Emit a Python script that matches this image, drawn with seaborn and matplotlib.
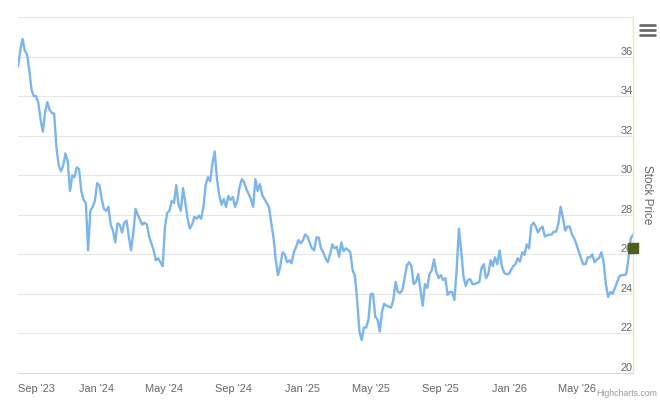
import numpy as np
import pandas as pd
import seaborn as sns
import matplotlib.pyplot as plt
import matplotlib.transforms as mtransforms
from matplotlib.lines import Line2D

# closing price, one reading every 4 days starting 2023-08-16
price = [
    35.5, 36.3, 36.9, 36.3, 36.1, 35.3, 34.3, 34.0, 34.0, 33.65,
    32.8, 32.2, 33.2, 33.7, 33.3, 33.15, 33.1, 31.4, 30.5, 30.2,
    30.5, 31.1, 30.7, 29.2, 30.0, 29.9, 30.4, 30.3, 29.2, 28.75,
    28.6, 26.2, 28.2, 28.4, 28.7, 29.6, 29.5, 28.8, 28.3, 28.2,
    28.4, 27.5, 27.2, 26.6, 27.56, 27.5, 27.1, 27.6, 27.7, 26.9,
    26.2, 27.1, 28.3, 28.0, 27.75, 27.5, 27.6, 27.5, 26.9, 26.55,
    26.2, 25.7, 25.8, 25.6, 25.4, 27.4, 28.1, 28.2, 28.7, 28.6,
    29.5, 28.5, 28.2, 29.35, 28.6, 27.8, 27.3, 27.5, 27.9, 27.8,
    27.95, 27.8, 28.4, 29.5, 29.9, 29.7, 30.6, 31.2, 29.8, 29.0,
    28.5, 28.8, 28.4, 28.95, 28.75, 28.9, 28.4, 28.7, 29.4, 29.8,
    29.65, 29.3, 29.05, 28.8, 28.4, 29.8, 29.2, 29.55, 29.0, 28.8,
    28.6, 28.4, 27.6, 26.85, 25.7, 24.95, 25.4, 26.1, 26.0, 25.6,
    25.7, 25.55, 26.1, 26.38, 26.72, 26.56, 26.7, 27.0, 26.9, 26.6,
    26.3, 26.2, 26.85, 26.85, 26.3, 26.1, 25.8, 25.6, 26.0, 26.5,
    26.3, 26.38, 25.88, 26.6, 26.15, 26.3, 26.22, 26.1, 25.2, 24.9,
    23.7, 22.1, 21.67, 22.3, 22.3, 22.7, 24.0, 24.0, 22.85, 22.7,
    22.1, 23.1, 23.5, 23.4, 23.35, 23.3, 23.7, 24.6, 24.1, 24.05,
    24.2, 24.8, 25.45, 25.6, 25.4, 24.5, 24.6, 25.0, 24.2, 23.4,
    24.5, 24.3, 25.0, 25.2, 25.75, 25.1, 24.8, 24.95, 24.7, 24.8,
    23.95, 24.1, 24.1, 23.7, 25.2, 27.3, 26.2, 24.9, 24.4, 24.7,
    24.75, 24.5, 24.5, 24.55, 24.6, 25.3, 25.5, 24.8, 25.0, 25.7,
    25.4, 25.85, 25.5, 26.2, 25.4, 25.07, 25.0, 25.0, 25.2, 25.4,
    25.5, 25.8, 25.63, 26.1, 25.97, 26.5, 26.3, 27.45, 27.6, 27.4,
    27.1, 27.3, 27.4, 26.9, 26.95, 27.0, 27.0, 27.15, 27.15, 27.55,
    28.4, 27.85, 27.2, 27.4, 27.4, 27.0, 26.8, 26.5, 26.15, 25.8,
    25.5, 25.5, 25.85, 25.85, 26.0, 25.6, 25.75, 25.8, 26.1, 25.6,
    24.5, 23.85, 24.1, 24.0, 24.3, 24.6, 24.9, 24.95, 24.95, 25.0,
    25.8, 26.8, 27.0,
]
start_date = "2023-08-16"
step = "4D"

tick_dates = ["2023-09-01", "2024-01-01", "2024-05-01", "2024-09-01", "2025-01-01",
              "2025-05-01", "2025-09-01", "2026-01-01", "2026-05-01"]
tick_labels = ["Sep '23", "Jan '24", "May '24", "Sep '24", "Jan '25",
               "May '25", "Sep '25", "Jan '26", "May '26"]
y_ticks = [20, 22, 24, 26, 28, 30, 32, 34, 36, 38]
y_labels = ["20", "22", "24", "26", "28", "30", "32", "34", "36", ""]
current_price = 26.3

sns.set_style("white")
plt.rcParams["font.family"] = ["Liberation Sans", "DejaVu Sans"]

df = pd.DataFrame({"date": pd.date_range(start_date, periods=len(price), freq=step),
                   "price": price})

fig = plt.figure(figsize=(6.6, 4), dpi=100)
ax = fig.add_axes([18/660, 27/400, 615/660, 356/400])

sns.lineplot(data=df, x="date", y="price", color="#7cb5ec", linewidth=1.7, ax=ax)
ax.plot([df.date.iloc[-1]], [current_price], marker="s", ms=7.5, color="#4b5f22",
        clip_on=False, zorder=6, ls="none")

ax.set_xlim(df.date.iloc[0], df.date.iloc[-1])
ax.set_ylim(20, 38)
ax.set_xlabel("")
ax.set_ylabel("")

ax.set_xticks(pd.to_datetime(tick_dates))
ax.set_xticklabels(tick_labels)
ax.yaxis.tick_right()
ax.set_yticks(y_ticks)
ax.set_yticklabels(y_labels)

ax.grid(axis="y", color="#e6e6e6", linewidth=0.75)
ax.grid(axis="x", visible=False)
ax.set_axisbelow(True)

for s in ["top", "left"]:
    ax.spines[s].set_visible(False)
ax.spines["bottom"].set_color("#ccd6eb")
ax.spines["bottom"].set_linewidth(0.75)
ax.spines["right"].set_color("#e0f0a8")
ax.spines["right"].set_linewidth(1)

ax.tick_params(axis="x", length=7.2, width=0.75, color="#ccd6eb", labelsize=7.9,
               labelcolor="#666666", pad=1)
ax.tick_params(axis="y", length=0, pad=0, labelsize=7.9, labelcolor="#666666")

up = mtransforms.ScaledTranslation(-0.5/100, 2/100, fig.dpi_scale_trans)
for lab in ax.get_yticklabels():
    lab.set_ha("right")
    lab.set_va("baseline")
    lab.set_transform(lab.get_transform() + up)

first = ax.get_xticklabels()[0]
first.set_ha("left")
first.set_transform(first.get_transform() +
                    mtransforms.ScaledTranslation(-9/100, 0, fig.dpi_scale_trans))

fig.text(647/660, 1 - 195/400, "Stock Price", rotation=270, ha="center", va="center",
         fontsize=8.5, color="#666666")

# menu icon
for yy in [24.6, 29.6, 34.6]:
    fig.add_artist(Line2D([639.8/660, 655.2/660], [1 - yy/400] * 2, color="#666666",
                          lw=1.9, solid_capstyle="round"))

fig.text(657/660, 0.004, "Highcharts.com", ha="right", va="bottom", fontsize=6.3,
         color="#999999")

fig.savefig("out.png", dpi=100)
